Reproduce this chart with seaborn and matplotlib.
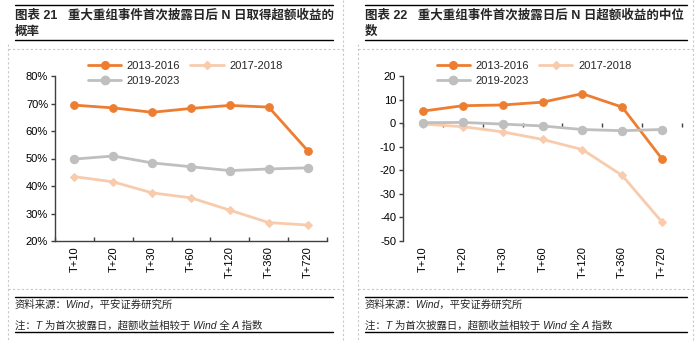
import matplotlib
matplotlib.use("Agg")
import matplotlib.pyplot as plt
from matplotlib.lines import Line2D
import seaborn as sns
import pandas as pd
import numpy as np

sns.set_theme(style="white")
plt.rcParams['font.family'] = ['Liberation Sans', 'Noto Sans CJK SC', 'DejaVu Sans']
plt.rcParams['axes.unicode_minus'] = False

categories = ["T+10", "T+20", "T+30", "T+60", "T+120", "T+360", "T+720"]
series_names = ["2013-2016", "2017-2018", "2019-2023"]

prob_2013_2016 = [69.4, 68.4, 66.8, 68.2, 69.3, 68.7, 52.9]
prob_2017_2018 = [43.4, 41.5, 37.5, 35.7, 31.2, 26.7, 25.8]
prob_2019_2023 = [49.8, 50.9, 48.4, 47.0, 45.6, 46.2, 46.6]

med_2013_2016 = [5.1, 7.4, 7.7, 8.9, 12.5, 6.8, -15.2]
med_2017_2018 = [-0.4, -1.5, -3.7, -6.9, -11.2, -22.2, -42.0]
med_2019_2023 = [0.2, 0.3, -0.4, -1.2, -2.7, -3.2, -2.7]

title_left = ["图表 21   重大重组事件首次披露日后 N 日取得超额收益的", "概率"]
title_right = ["图表 22   重大重组事件首次披露日后 N 日超额收益的中位", "数"]
source_text = "资料来源：Wind，平安证券研究所"
note_text = "注：T 为首次披露日，超额收益相较于 Wind 全 A 指数"

colors = {"2013-2016": "#ED7D31", "2017-2018": "#F8CBAD", "2019-2023": "#BFBFBF"}
markers = {"2013-2016": "o", "2017-2018": "D", "2019-2023": "o"}
msizes = {"2013-2016": 5.5, "2017-2018": 4.5, "2019-2023": 6.0}

def make_df(a, b, c):
    rows = []
    for name, vals in zip(series_names, [a, b, c]):
        for i, (cat, v) in enumerate(zip(categories, vals)):
            rows.append({"cat": cat, "pos": i, "series": name, "value": v})
    return pd.DataFrame(rows)

df_left = make_df(prob_2013_2016, prob_2017_2018, prob_2019_2023)
df_right = make_df(med_2013_2016, med_2017_2018, med_2019_2023)

W, H = 700, 341
fig = plt.figure(figsize=(7.0, 3.41), dpi=100)

def fx(px):
    return px / W

def fy(py):
    return 1 - py / H

ax1 = fig.add_axes([fx(55), fy(241), fx(327) - fx(55), fy(76) - fy(241)])
ax2 = fig.add_axes([fx(403), fy(241), fx(682) - fx(403), fy(76) - fy(241)])

axis_color = "#404040"
tick_fs = 8

def draw(ax, df):
    for name in series_names:
        sub = df[df.series == name]
        sns.lineplot(data=sub, x="pos", y="value", ax=ax, color=colors[name],
                     marker=markers[name], markersize=msizes[name],
                     markeredgecolor=colors[name], linewidth=2.0, legend=False,
                     errorbar=None)
    ax.set_xlim(-0.5, len(categories) - 0.5)
    ax.set_xlabel("")
    ax.set_ylabel("")
    ax.set_xticks(range(len(categories)))
    ax.set_xticklabels(categories, rotation=90, fontsize=tick_fs, color="#000000")
    ax.set_xticks(np.arange(-0.5, len(categories), 1.0), minor=True)
    for s in ["top", "right"]:
        ax.spines[s].set_visible(False)
    ax.spines["left"].set_color(axis_color)
    ax.spines["left"].set_linewidth(1.0)
    ax.tick_params(axis="y", which="major", direction="out", length=3,
                   width=1.0, color=axis_color, labelsize=tick_fs, pad=2,
                   left=True, labelcolor="#000000")
    ax.tick_params(axis="x", which="major", length=0, pad=4)
    ax.grid(False)
    ax.set_facecolor("none")

draw(ax1, df_left)
ax1.set_ylim(20, 80)
ax1.set_yticks(range(20, 81, 10))
ax1.set_yticklabels([f"{v}%" for v in range(20, 81, 10)])
ax1.spines["bottom"].set_color(axis_color)
ax1.spines["bottom"].set_linewidth(1.0)
ax1.tick_params(axis="x", which="minor", direction="in", length=3, width=1.0,
                color=axis_color, bottom=True)

draw(ax2, df_right)
ax2.set_ylim(-50, 20)
ax2.set_yticks(range(-50, 21, 10))
ax2.spines["bottom"].set_visible(False)
ax2.tick_params(axis="x", which="minor", length=0)
sec = ax2.secondary_xaxis(50 / 70)
sec.set_xticks(np.arange(-0.5, len(categories), 1.0))
sec.set_xticklabels([])
sec.tick_params(axis="x", direction="in", length=3, width=1.0, color=axis_color)
sec.spines["bottom"].set_color(axis_color)
sec.spines["bottom"].set_linewidth(1.0)
for s in ["top", "left", "right"]:
    sec.spines[s].set_visible(False)
ax2.set_zorder(sec.get_zorder() + 1)

# legends
def add_legend(ax):
    handles = [Line2D([0], [0], color=colors[n], marker=markers[n],
                      markersize=msizes[n], linewidth=2.0,
                      markeredgecolor=colors[n]) for n in series_names]
    order = [0, 2, 1]
    leg = ax.legend([handles[i] for i in order], [series_names[i] for i in order],
                    ncol=2, loc="upper left", bbox_to_anchor=(0.105, 1.12),
                    frameon=False, fontsize=8, handlelength=3.0,
                    columnspacing=0.9, labelspacing=0.45, handletextpad=0.5,
                    borderaxespad=0)
    return leg

add_legend(ax1)
add_legend(ax2)

# titles and rules
title_fs = 9
for x0, x1, lines in [(15, 333, title_left), (365, 687, title_right)]:
    fig.add_artist(Line2D([fx(x0), fx(x1)], [fy(5), fy(5)], color="#000000", lw=1.0))
    fig.add_artist(Line2D([fx(x0), fx(x1)], [fy(40), fy(40)], color="#000000", lw=1.0))
    fig.text(fx(x0), fy(15), lines[0], fontsize=title_fs, fontweight="bold",
             ha="left", va="center", family=['Liberation Sans', 'Noto Sans CJK SC'])
    fig.text(fx(x0), fy(32), lines[1], fontsize=title_fs, fontweight="bold",
             ha="left", va="center", family=['Liberation Sans', 'Noto Sans CJK SC'])
    fig.add_artist(Line2D([fx(x0), fx(x1)], [fy(297), fy(297)], color="#000000", lw=1.0))
    fig.add_artist(Line2D([fx(x0), fx(x1)], [fy(332), fy(332)], color="#000000", lw=1.0))
    fig.text(fx(x0), fy(305), source_text, fontsize=7.5, style="italic",
             ha="left", va="center", family=['Liberation Sans', 'Noto Sans CJK SC'])
    fig.text(fx(x0), fy(325), note_text, fontsize=7.5, style="italic",
             ha="left", va="center", family=['Liberation Sans', 'Noto Sans CJK SC'])

# dashed frames
dash_kw = dict(color="#C8C8C8", lw=0.8, linestyle=(0, (2, 2)))
for xl, xr in [(8, 343), (358, 693)]:
    fig.add_artist(Line2D([fx(xl), fx(xl)], [fy(44), fy(341)], **dash_kw))
    fig.add_artist(Line2D([fx(xr), fx(xr)], [fy(0), fy(341)], **dash_kw))
    fig.add_artist(Line2D([fx(xl), fx(xr)], [fy(49), fy(49)], **dash_kw))
    fig.add_artist(Line2D([fx(xl), fx(xr)], [fy(289), fy(289)], **dash_kw))

fig.savefig("out.png", dpi=100)
